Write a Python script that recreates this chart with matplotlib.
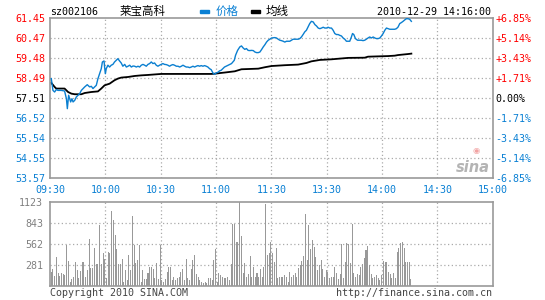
import numpy as np
import matplotlib
matplotlib.use("Agg")
import matplotlib.pyplot as plt

# ---------------- data ----------------
prev_close = 57.51
code = "sz002106"
name = "莱宝高科"
stamp = "2010-12-29 14:16:00"

# minutes of trading time since 09:30 (11:30 == 13:00 -> minute 120)
price_min = [0.7, 1.6, 2.5, 3.4, 4.3, 6.1, 7.9, 8.9, 9.4, 10.1, 11.2, 11.9, 12.5, 13.4, 14.3,
             15.2, 16.1, 17.0, 18.8, 20.2, 21.5, 22.4, 23.3, 24.2, 25.1, 26.0, 26.9, 27.8, 28.4,
             29.3, 29.6, 30.0, 30.5, 31.4, 32.3, 33.2, 34.1, 35.0, 35.9, 36.8, 37.7, 38.6, 39.5,
             40.5, 41.4, 42.3, 43.2, 44.1, 45.0, 45.9, 46.8, 47.7, 48.6, 49.5, 50.4, 51.3, 52.2,
             53.1, 54.0, 54.9, 55.8, 56.7, 57.6, 58.5, 59.4, 60.3, 61.2, 62.1, 63.0, 63.9, 64.8,
             65.7, 66.6, 67.5, 68.5, 69.4, 70.3, 71.2, 72.1, 73.0, 73.9, 74.8, 75.7, 76.6, 77.5,
             78.4, 79.3, 80.2, 81.1, 82.0, 82.9, 83.8, 84.7, 85.6, 86.5, 87.4, 88.3, 89.2, 90.1,
             91.0, 91.9, 92.8, 93.7, 94.6, 95.5, 96.6, 98.4, 99.9, 100.6, 101.7, 102.9, 103.8,
             104.7, 105.6, 106.5, 107.4, 108.3, 109.2, 110.2, 111.1, 112.0, 112.9, 113.8, 114.7,
             115.6, 116.5, 117.4, 118.3, 119.2, 120.1, 121.9, 122.8, 123.7, 124.6, 125.5, 126.4,
             127.3, 128.2, 129.1, 130.0, 130.9, 131.8, 132.7, 133.6, 134.5, 135.4, 136.3, 137.2,
             138.1, 139.0, 139.9, 140.8, 141.7, 142.7, 143.6, 144.5, 145.4, 146.3, 147.2, 148.1,
             149.0, 149.9, 150.8, 151.7, 152.6, 153.5, 154.4, 155.3, 156.2, 157.1, 158.0, 158.9,
             159.8, 160.7, 161.6, 162.5, 163.4, 164.0, 164.7, 165.6, 166.7, 167.9, 168.8, 169.7,
             170.6, 171.5, 172.4, 173.3, 174.3, 175.2, 176.1, 177.0, 177.9, 178.8, 179.7, 180.6,
             181.5, 182.4, 183.3, 184.2, 185.1, 186.0, 186.9, 187.8, 188.7, 189.6, 190.5, 191.4,
             192.3, 193.2, 194.1, 195.0, 195.9]
price = [58.48, 57.90, 57.82, 57.94, 57.90, 57.90, 57.87, 57.49, 57.00, 57.66, 57.33, 57.49, 57.33,
         57.41, 57.58, 57.66, 57.74, 57.90, 58.07, 58.18, 58.07, 58.10, 57.99, 58.07, 58.15, 58.48,
         58.72, 58.97, 59.30, 59.35, 59.05, 58.72, 58.97, 59.14, 59.05, 59.14, 59.18, 59.30, 59.38,
         59.46, 59.35, 59.25, 59.09, 59.18, 59.05, 59.09, 59.14, 59.05, 59.10, 59.09, 59.05, 59.09,
         59.05, 59.14, 59.18, 59.14, 59.09, 59.18, 59.22, 59.30, 59.22, 59.25, 59.14, 59.09, 59.14,
         59.18, 59.22, 59.18, 59.17, 59.14, 59.09, 59.14, 59.17, 59.14, 59.09, 59.09, 59.05, 59.09,
         59.14, 59.09, 59.05, 59.05, 59.02, 59.05, 59.09, 59.05, 59.09, 59.12, 59.09, 59.12, 59.09,
         59.12, 59.09, 59.05, 58.97, 58.92, 58.76, 58.69, 58.76, 58.79, 58.86, 58.89, 58.97, 59.05,
         59.09, 59.14, 59.22, 59.38, 59.63, 59.87, 60.04, 60.09, 59.99, 59.92, 59.96, 59.87, 59.86,
         59.87, 59.86, 59.79, 59.76, 59.76, 59.79, 59.91, 60.04, 60.15, 60.28, 60.37, 60.42, 60.48,
         60.50, 60.48, 60.42, 60.37, 60.35, 60.32, 60.28, 60.32, 60.32, 60.32, 60.37, 60.42, 60.42,
         60.42, 60.42, 60.45, 60.53, 60.65, 60.78, 60.86, 61.02, 61.19, 61.30, 61.27, 61.14, 61.07,
         60.97, 60.94, 60.97, 61.01, 60.97, 60.97, 61.01, 60.97, 60.97, 60.86, 60.70, 60.65, 60.65,
         60.61, 60.58, 60.48, 60.42, 60.32, 60.32, 60.32, 60.53, 60.70, 60.65, 60.45, 60.37, 60.37,
         60.37, 60.35, 60.37, 60.42, 60.48, 60.53, 60.48, 60.53, 60.48, 60.45, 60.45, 60.48, 60.58,
         60.70, 60.86, 60.97, 60.94, 60.91, 60.91, 60.91, 60.91, 60.94, 61.02, 61.19, 61.24, 61.30,
         61.37, 61.43, 61.43, 61.40, 61.30]

avg_min = [0.7, 2.5, 3.4, 7.9, 9.8, 11.6, 13.4, 17.0, 18.8, 22.4, 26.0, 27.8, 29.6, 32.3, 35.0,
           36.8, 38.6, 42.3, 45.9, 49.5, 53.1, 60.3, 71.2, 87.4, 89.2, 92.8, 94.8, 100.2, 103.8,
           112.9, 116.5, 120.1, 127.3, 134.5, 139.0, 141.7, 146.3, 152.6, 161.6, 170.6, 172.4,
           183.3, 186.9, 188.7, 194.1, 195.9]
avg_price = [58.27, 58.07, 57.99, 57.99, 57.82, 57.74, 57.71, 57.71, 57.77, 57.82, 57.85, 57.99,
             58.15, 58.23, 58.40, 58.48, 58.53, 58.56, 58.61, 58.64, 58.66, 58.71, 58.71, 58.71,
             58.72, 58.76, 58.78, 58.84, 58.94, 58.97, 59.04, 59.10, 59.14, 59.17, 59.25, 59.33,
             59.40, 59.43, 59.50, 59.51, 59.56, 59.59, 59.61, 59.64, 59.69, 59.71]

volume = [191, 222, 138, 382, 169, 133, 169, 155, 147, 546,
          333, 58, 93, 124, 324, 213, 111, 204, 324, 324,
          124, 213, 626, 244, 244, 506, 293, 293, 813, 293,
          435, 360, 102, 457, 435, 999, 879, 679, 493, 293,
          293, 355, 58, 213, 80, 413, 213, 932, 546, 311,
          346, 546, 58, 213, 93, 89, 178, 249, 258, 222,
          102, 311, 98, 546, 80, 58, 89, 191, 258, 258,
          80, 124, 80, 102, 124, 191, 222, 80, 355, 111,
          80, 222, 346, 408, 160, 124, 80, 58, 36, 58,
          36, 102, 102, 80, 346, 493, 58, 169, 147, 115,
          102, 102, 115, 80, 293, 835, 835, 591, 591, 1123,
          666, 169, 311, 124, 160, 400, 124, 258, 124, 169,
          115, 222, 124, 249, 1092, 413, 435, 591, 435, 324,
          502, 111, 115, 124, 124, 147, 124, 58, 191, 124,
          147, 169, 124, 235, 280, 337, 400, 968, 346, 813,
          488, 613, 524, 382, 213, 280, 346, 222, 115, 213,
          191, 102, 124, 124, 249, 169, 98, 160, 555, 102,
          324, 577, 568, 302, 835, 169, 124, 160, 147, 249,
          293, 369, 480, 537, 280, 155, 102, 124, 147, 111,
          80, 147, 337, 324, 324, 191, 160, 111, 178, 102,
          457, 502, 577, 591, 502, 324, 324, 324, 93]
vol_first_min, vol_last_min = 0.6, 195.7

price_ticks = [61.45, 60.47, 59.48, 58.49, 57.51, 56.52, 55.54, 54.55, 53.57]
pct_labels = ["+6.85%", "+5.14%", "+3.43%", "+1.71%", "0.00%", "-1.71%", "-3.43%", "-5.14%", "-6.85%"]
time_ticks = [0, 30, 60, 90, 120, 150, 180, 210, 240]
time_labels = ["09:30", "10:00", "10:30", "11:00", "11:30", "13:30", "14:00", "14:30", "15:00"]
vol_ticks = [281, 562, 843, 1123]

# ---------------- style ----------------
RED = "#ff0000"
BLUE = "#0a80d4"
LINE_BLUE = "#0a7fd0"
FRAME = "#999999"
GRID = "#aaaaaa"
MONO = "DejaVu Sans Mono"
CJK = ["Noto Sans CJK SC", "DejaVu Sans"]
FS = 7.2

def lab_color(v):
    if v > prev_close + 1e-9:
        return RED
    if abs(v - prev_close) < 1e-9:
        return "black"
    return BLUE

W, H = 545, 300
fig = plt.figure(figsize=(W / 100, H / 100), dpi=100)
fig.patch.set_facecolor("white")

x0, x1 = 50, 492.7
ax = fig.add_axes([x0 / W, 1 - 178.3 / H, (x1 - x0) / W, (178.3 - 18.3) / H])
axv = fig.add_axes([x0 / W, 1 - 286 / H, (x1 - x0) / W, (286 - 202) / H])

for a in (ax, axv):
    a.set_xlim(0, 240)
    for s in a.spines.values():
        s.set_color(FRAME)
        s.set_linewidth(1.2)
    a.set_facecolor("white")
    for t in time_ticks[1:-1]:
        a.axvline(t, color=GRID, lw=0.9, ls=(0, (1, 2)), zorder=0)

# price panel
ax.set_ylim(price_ticks[-1], price_ticks[0])
for p in price_ticks[1:-1]:
    ax.axhline(p, color=GRID, lw=0.9, ls=(0, (1, 2)), zorder=0)
ax.plot(avg_min, avg_price, color="black", lw=1.3, zorder=2)
ax.plot(price_min, price, color=LINE_BLUE, lw=1.0, zorder=3)

ax.set_yticks(price_ticks)
ax.set_yticklabels([f"{p:.2f}" for p in price_ticks], fontfamily=MONO, fontsize=FS)
for lbl, p in zip(ax.get_yticklabels(), price_ticks):
    lbl.set_color(lab_color(p))
ax.tick_params(axis="y", length=0, pad=3.2)
ax.set_xticks(time_ticks)
ax.set_xticklabels(time_labels, fontfamily=MONO, fontsize=FS, color=BLUE)
ax.tick_params(axis="x", length=0, pad=5)

ax2 = ax.twinx()
ax2.set_ylim(ax.get_ylim())
ax2.set_yticks(price_ticks)
ax2.set_yticklabels(pct_labels, fontfamily=MONO, fontsize=FS)
for lbl, p in zip(ax2.get_yticklabels(), price_ticks):
    lbl.set_color(lab_color(p))
ax2.tick_params(axis="y", length=0, pad=2)
for s in ax2.spines.values():
    s.set_visible(False)

# sina watermark
ax.text(0.955, 0.065, "sina", transform=ax.transAxes, ha="center", va="center",
        fontsize=10.5, fontstyle="italic", fontweight="bold", color="#b4b4b4", zorder=1)
ax.text(0.962, 0.175, "◉", transform=ax.transAxes, ha="center", va="center",
        fontsize=6, color="#f2a3a3", zorder=1)

# volume panel
vol_x = np.linspace(vol_first_min, vol_last_min, len(volume))
axv.bar(vol_x, volume, width=0.55, color="#999999", zorder=2)
axv.set_ylim(0, vol_ticks[-1])
for v in vol_ticks[:-1]:
    axv.axhline(v, color=GRID, lw=0.9, ls=(0, (1, 2)), zorder=0)
axv.set_yticks(vol_ticks)
axv.set_yticklabels([str(v) for v in vol_ticks], fontfamily=MONO, fontsize=FS, color="#808080")
axv.tick_params(axis="y", length=0, pad=5)
axv.set_xticks([])

# header
fig.text(50 / W, 1 - 11.7 / H, code, fontfamily=MONO, fontsize=FS, color="black", va="center", ha="left")
fig.text(120 / W, 1 - 11.7 / H, name, family=CJK, fontsize=8.3, color="black", va="center", ha="left")
fig.patches.append(matplotlib.patches.Rectangle((200 / W, 1 - 13.3 / H), 9 / W, 3.2 / H,
                                                transform=fig.transFigure, color=BLUE))
fig.text(216 / W, 1 - 11.7 / H, "价格", family=CJK, fontsize=8.3, color=BLUE, va="center", ha="left")
fig.patches.append(matplotlib.patches.Rectangle((251 / W, 1 - 13.3 / H), 9 / W, 3.2 / H,
                                                transform=fig.transFigure, color="black"))
fig.text(266 / W, 1 - 11.7 / H, "均线", family=CJK, fontsize=8.3, color="black", va="center", ha="left")
fig.text(491 / W, 1 - 11.7 / H, stamp, fontfamily=MONO, fontsize=FS, color="black", va="center", ha="right")

# footer
fig.text(50 / W, 1 - 293 / H, "Copyright 2010 SINA.COM", fontfamily=MONO, fontsize=FS,
         color="#444444", va="center", ha="left")
fig.text(492 / W, 1 - 293 / H, "http://finance.sina.com.cn", fontfamily=MONO, fontsize=FS,
         color="#444444", va="center", ha="right")

fig.savefig("out.png", dpi=100, facecolor="white")
